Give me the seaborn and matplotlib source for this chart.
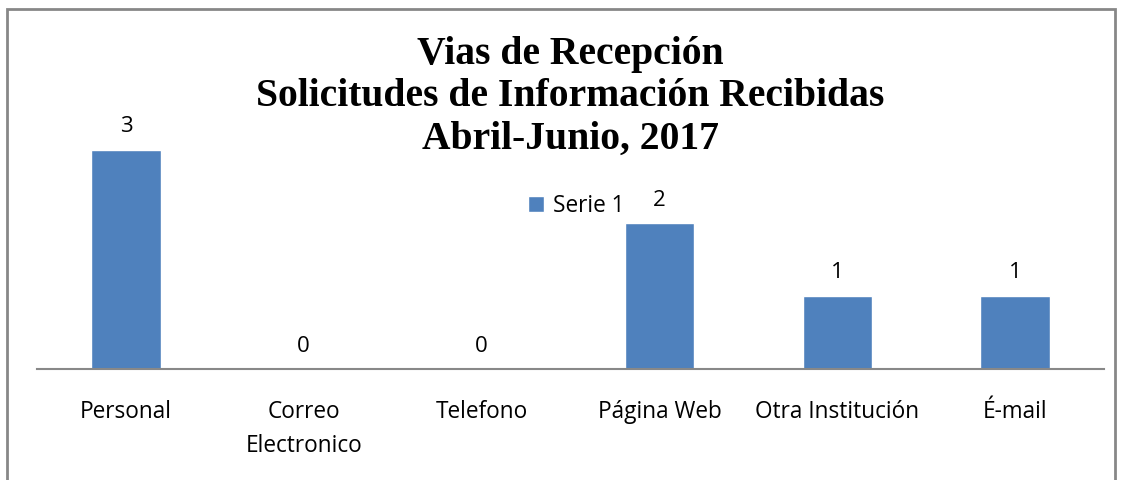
import matplotlib
matplotlib.use("Agg")
import matplotlib.pyplot as plt
import matplotlib.patches as mpatches
import seaborn as sns
import pandas as pd

categories = ["Personal", "Correo\nElectronico", "Telefono", "Página Web", "Otra Institución", "É-mail"]
values = [3, 0, 0, 2, 1, 1]
series_name = "Serie 1"
title = "Vias de Recepción\nSolicitudes de Información Recibidas\nAbril-Junio, 2017"

sns.set_theme(style="white")
plt.rcParams['font.family'] = ['Open Sans', 'DejaVu Sans']
plt.rcParams['text.color'] = "#000000"

df = pd.DataFrame({"cat": categories, "val": values, "serie": series_name})

W, H = 1123, 480
fig = plt.figure(figsize=(W / 100, H / 100), dpi=100)
ax = fig.add_axes([37 / W, 1 - 369 / H, (1104 - 37) / W, (369 - 113.5) / H])

bar_color = "#4F81BD"
sns.barplot(data=df, x="cat", y="val", hue="serie", palette=[bar_color],
            width=0.39, ax=ax, saturation=1, legend=True)

ax.set_ylim(0, 3.5)
ax.set_xlim(-0.5, len(categories) - 0.5)
for s in ["top", "right", "left"]:
    ax.spines[s].set_visible(False)
ax.spines["bottom"].set_color("#888888")
ax.spines["bottom"].set_linewidth(1.5)
ax.set_yticks([])
ax.set_xlabel("")
ax.set_ylabel("")
ax.tick_params(axis="x", length=0, pad=22, labelsize=16.3, colors="#000000")
for lbl in ax.get_xticklabels():
    lbl.set_linespacing(1.6)

for cont in ax.containers:
    ax.bar_label(cont, labels=[str(v) for v in values], padding=9, fontsize=16, color="#000000")

leg = ax.legend(loc="center left", bbox_to_anchor=(517 / W, 1 - 206 / H),
                bbox_transform=fig.transFigure, frameon=False, fontsize=16.3,
                handlelength=0.68, handleheight=0.68, handletextpad=0.4, borderpad=0)
for t in leg.get_texts():
    t.set_color("#000000")

fig.text(0.5 * (37 + 1104) / W, 1 - 97 / H, title, ha="center", va="center",
         fontsize=28.5, fontweight="bold", family=["Liberation Serif", "DejaVu Serif"],
         linespacing=1.2, color="#000000")

border = mpatches.Rectangle((7 / W, -0.05), (1115 - 7) / W, 1.05 - 9 / H,
                            transform=fig.transFigure, fill=False,
                            edgecolor="#878787", linewidth=2, clip_on=False)
fig.patches.append(border)

fig.savefig("out.png", dpi=100)
